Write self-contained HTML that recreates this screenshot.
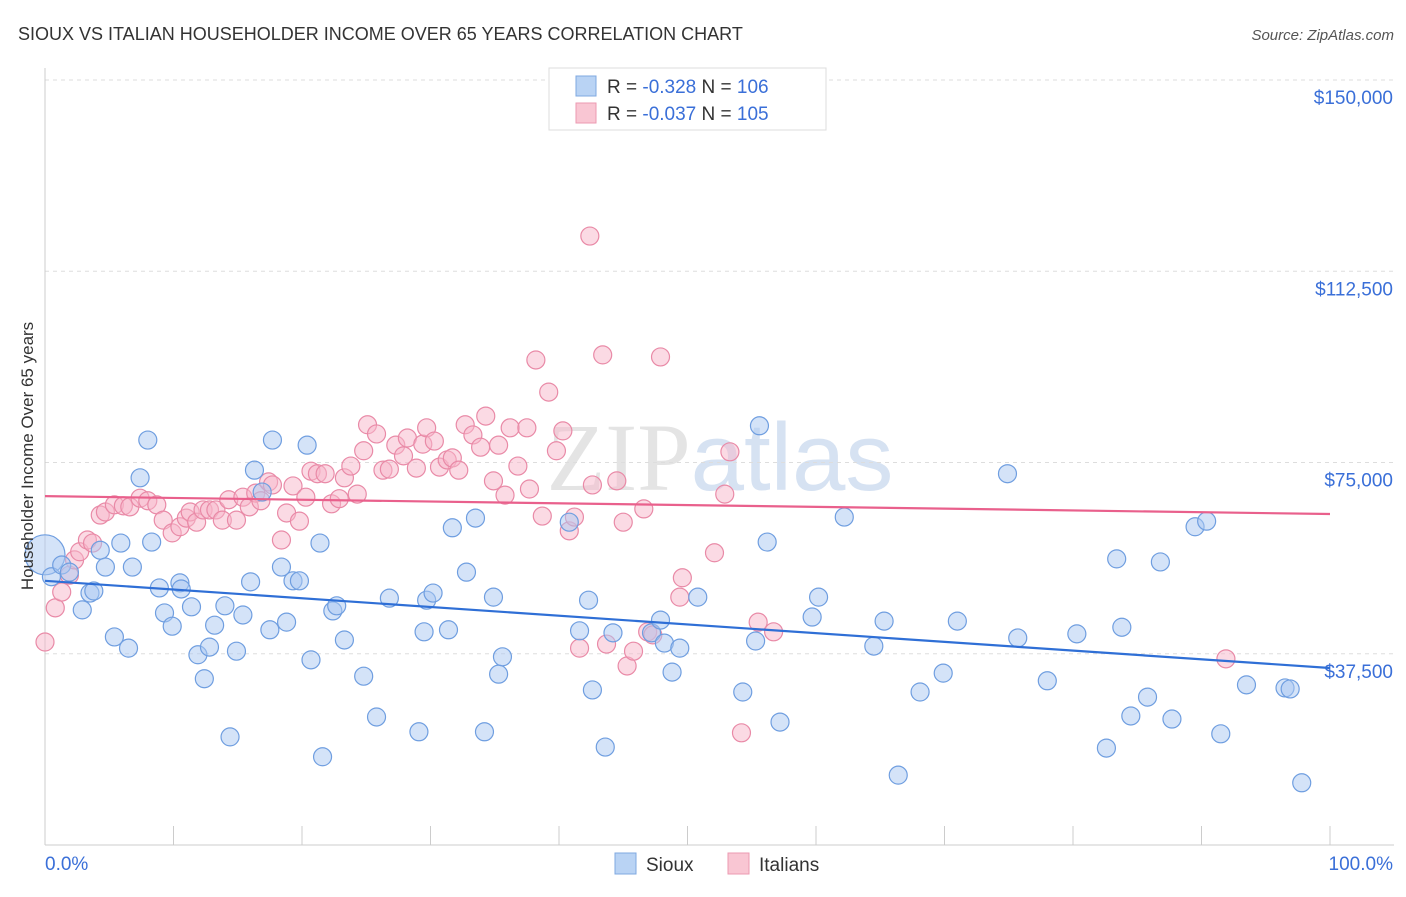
<!DOCTYPE html>
<html><head><meta charset="utf-8"><style>
body{margin:0;background:#fff;font-family:"Liberation Sans",sans-serif;}
</style></head><body>
<svg width="1406" height="892" xmlns="http://www.w3.org/2000/svg">
<text x="18" y="40" font-size="18" fill="#333">SIOUX VS ITALIAN HOUSEHOLDER INCOME OVER 65 YEARS CORRELATION CHART</text>
<text x="1394" y="40" font-size="15" fill="#555" text-anchor="end" font-style="italic">Source: ZipAtlas.com</text>
<text x="720" y="490" font-size="96" fill="#e4e4e4" text-anchor="middle" font-family="Liberation Serif">ZIP<tspan fill="#d6e2f2" font-family="Liberation Sans">atlas</tspan></text>
<g id="grid"></g>
<g id="axes"></g>
<g id="pts"></g>
<g id="lines"></g>
<text transform="translate(33,456) rotate(-90)" font-size="17" fill="#333" text-anchor="middle">Householder Income Over 65 years</text>
<g>
<rect x="549" y="68" width="277" height="62" fill="#fff" stroke="#ddd"/>
<rect x="576" y="76" width="20" height="20" fill="#b9d3f4" stroke="#7fa8e0"/>
<rect x="576" y="103" width="20" height="20" fill="#f9c6d3" stroke="#ec9ab2"/>
<text x="607" y="93" font-size="19" fill="#333">R = <tspan fill="#3a6fd8">-0.328</tspan>    N = <tspan fill="#3a6fd8">106</tspan></text>
<text x="607" y="120" font-size="19" fill="#333">R = <tspan fill="#3a6fd8">-0.037</tspan>    N = <tspan fill="#3a6fd8">105</tspan></text>
</g>
<g>
<rect x="615" y="853" width="21" height="21" fill="#b9d3f4" stroke="#7fa8e0"/>
<text x="646" y="871" font-size="19" fill="#333">Sioux</text>
<rect x="728" y="853" width="21" height="21" fill="#f9c6d3" stroke="#ec9ab2"/>
<text x="759" y="871" font-size="19" fill="#333">Italians</text>
</g>
</svg>
<script>
const yTicks=[37500,75000,112500,150000];
const yTickLabels=["$37,500","$75,000","$112,500","$150,000"];
const xTickLabels=["0.0%","100.0%"];
const siouxX=[0,0.5,1.3,1.9,2.9,3.5,3.8,4.3,4.7,5.4,5.9,6.5,6.8,7.4,8.0,8.3,8.9,9.3,9.9,10.5,10.6,11.4,11.9,12.4,12.8,13.2,14.0,14.4,14.9,15.4,16.0,16.3,16.9,17.5,17.7,18.4,18.8,19.3,19.8,20.4,20.7,21.4,21.6,22.4,22.7,23.3,24.8,25.8,26.8,29.1,29.5,29.7,30.2,31.4,31.7,32.8,33.5,34.2,34.9,35.3,35.6,40.8,41.6,42.3,42.6,43.6,44.2,47.2,47.9,48.2,48.8,49.4,50.8,54.3,55.3,55.6,56.2,57.2,59.7,60.2,62.2,64.5,65.3,66.4,68.1,69.9,71.0,74.9,75.7,78.0,80.3,82.6,83.4,83.8,84.5,85.8,86.8,87.7,89.5,90.4,91.5,93.5,96.5,96.9,97.8];
const siouxY=[56.9,52.6,54.9,53.5,46.1,49.4,49.8,57.8,54.5,40.8,59.2,38.6,54.5,72.0,79.4,59.4,50.4,45.5,42.9,51.4,50.2,46.7,37.3,32.6,38.8,43.1,46.9,21.2,38.0,45.1,51.6,73.5,69.2,42.2,79.4,54.5,43.7,51.8,51.8,78.4,36.3,59.2,17.3,45.9,46.9,40.2,33.1,25.1,48.4,22.2,41.8,48.0,49.4,42.2,62.2,53.5,64.1,22.2,48.6,33.5,36.9,63.3,42.0,48.0,30.4,19.2,41.6,41.6,44.1,39.6,33.9,38.6,48.6,30.0,40.0,82.2,59.4,24.1,44.7,48.6,64.3,39.0,43.9,13.7,30.0,33.7,43.9,72.8,40.6,32.2,41.4,19.0,56.1,42.7,25.3,29.0,55.5,24.7,62.4,63.5,21.8,31.4,30.8,30.6,12.2];
const italX=[0,0.8,1.3,1.9,2.3,2.7,3.3,3.7,4.3,4.7,5.4,6.1,6.6,7.4,8.0,8.7,9.2,9.9,10.5,11.0,11.3,11.8,12.3,12.8,13.3,13.8,14.3,14.9,15.4,15.9,16.4,16.8,17.4,17.7,18.4,18.8,19.3,19.8,20.3,20.7,21.2,21.8,22.3,22.9,23.3,23.8,24.3,24.8,25.1,25.8,26.3,26.8,27.3,27.9,28.2,28.9,29.4,29.7,30.3,30.7,31.3,31.7,32.2,32.7,33.3,33.9,34.3,34.9,35.3,35.8,36.2,36.8,37.5,37.7,38.2,38.7,39.2,39.8,40.3,40.8,41.2,41.6,42.4,42.6,43.4,43.7,44.5,45.0,45.3,45.8,46.6,46.9,47.3,47.9,49.6,49.4,52.1,52.9,53.3,54.2,55.5,56.7,91.9];
const italY=[39.8,46.5,49.6,52.9,55.9,57.5,59.8,59.2,64.7,65.3,66.7,66.5,66.3,68.0,67.5,66.7,63.7,61.2,62.4,64.1,65.3,63.3,65.7,65.7,65.7,63.7,67.7,63.7,68.2,66.3,69.0,67.5,71.2,70.6,59.8,65.1,70.4,63.5,68.2,73.3,72.8,72.8,66.9,67.9,72.0,74.3,68.8,77.3,82.4,80.6,73.5,73.7,78.4,76.3,79.8,73.9,78.6,81.8,79.2,74.1,75.5,75.9,73.5,82.4,80.4,78.0,84.1,71.4,78.4,68.6,81.8,74.3,81.8,69.8,95.1,64.5,88.8,77.3,81.2,61.6,64.3,38.6,119.4,70.6,96.1,39.4,71.4,63.3,35.1,38.0,65.9,41.8,41.2,95.7,52.4,48.6,57.3,68.8,77.1,22.0,43.7,41.8,36.5];
const siouxTrend=[51.8,34.7];
const italTrend=[68.4,64.9];
const NS="http://www.w3.org/2000/svg";
const X0=45,X1=1330,YB=845,YT=80;
const sx=v=>X0+(X1-X0)*v/100;
const sy=v=>YB-(YB-YT)*v/150000;
function mk(t,a,p){const e=document.createElementNS(NS,t);for(const k in a)e.setAttribute(k,a[k]);p.appendChild(e);return e;}
const grid=document.getElementById('grid'),axes=document.getElementById('axes'),pts=document.getElementById('pts'),lines=document.getElementById('lines');
yTicks.forEach((t,i)=>{
 const l=mk('line',{x1:X0,x2:1394,y1:sy(t),y2:sy(t),stroke:'#ddd','stroke-dasharray':'4,4'},grid);
 
 
 const tx=mk('text',{x:1393,y:sy(t)+24,'font-size':19,fill:'#3a6fd8','text-anchor':'end'},axes);
 tx.textContent=yTickLabels[i];
 
 
});
const yl=mk('line',{x1:X0,x2:X0,y1:68,y2:YB,stroke:'#ccc'},axes);


const xl=mk('line',{x1:X0,x2:1394,y1:YB,y2:YB,stroke:'#ccc'},axes);


for(let i=0;i<=10;i++){
 const t=mk('line',{x1:sx(i*10),x2:sx(i*10),y1:826,y2:YB,stroke:'#ccc'},axes);
 
 
}
[[0,'start',45],[100,'end',1393]].forEach((d,i)=>{
 const tx=mk('text',{x:d[2],y:870,'font-size':19,fill:'#3a6fd8','text-anchor':d[1]},axes);
 tx.textContent=xTickLabels[i];
 
 
});
function dots(xs,ys,fill,stroke,name){
 xs.forEach((x,i)=>{
  const c=mk('circle',{cx:sx(x),cy:sy(ys[i]*1000),r:(i==0&&name=='sioux-point')?20:9,fill:fill,'fill-opacity':0.5,stroke:stroke,'stroke-width':1.2},pts);
  
  
 });
}
dots(italX,italY,'#f7b6c9','#e98aa7','italians-point');
dots(siouxX,siouxY,'#a9c8f1','#6f9ee0','sioux-point');
const l1=mk('line',{x1:sx(0),x2:sx(100),y1:sy(siouxTrend[0]*1000),y2:sy(siouxTrend[1]*1000),stroke:'#2f6fd6','stroke-width':2.2},lines);


const l2=mk('line',{x1:sx(0),x2:sx(100),y1:sy(italTrend[0]*1000),y2:sy(italTrend[1]*1000),stroke:'#e9608c','stroke-width':2.2},lines);


</script>
</body></html>
